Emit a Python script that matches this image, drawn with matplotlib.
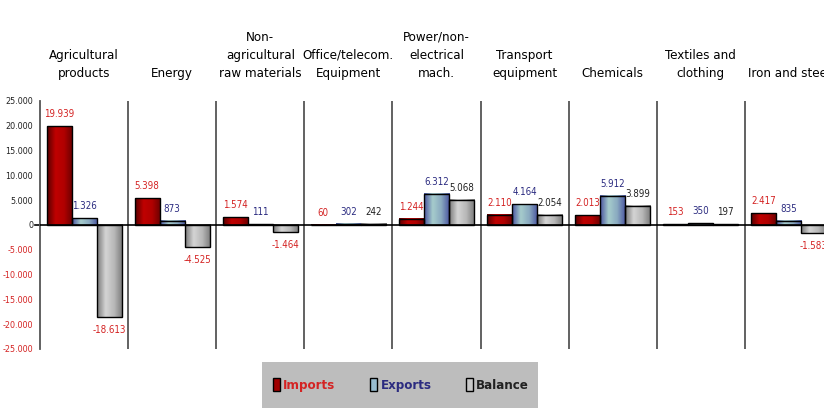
import numpy as np
import matplotlib
matplotlib.use('Agg')
import matplotlib.pyplot as plt
from matplotlib.colors import LinearSegmentedColormap
from matplotlib.patches import Rectangle

categories = ['Agricultural\nproducts', 'Energy', 'Non-\nagricultural\nraw materials',
              'Office/telecom.\nEquipment', 'Power/non-\nelectrical\nmach.',
              'Transport\nequipment', 'Chemicals', 'Textiles and\nclothing', 'Iron and steel']
imports = [19939, 5398, 1574, 60, 1244, 2110, 2013, 153, 2417]
exports = [1326, 873, 111, 302, 6312, 4164, 5912, 350, 835]
balance = [-18613, -4525, -1464, 242, 5068, 2054, 3899, 197, -1583]
yticks = list(range(-25000, 25001, 5000))

RED = '#d42323'
NAVY = '#2b2b80'
DARK = '#222222'
# narrow look of the original: DejaVu Sans condensed
plt.rcParams['font.family'] = 'DejaVu Sans'
plt.rcParams['font.stretch'] = 'condensed'

# left-to-right gradients for the bar fills (dark edge, light middle, dark edge)
grad = {
    'imports': ['#5a0000', '#c00000', '#b00000', '#6a0000'],
    'exports': ['#4a55a0', '#a6cccc', '#8aaac0', '#4a55a0'],
    'balance': ['#7a7a7a', '#d4d4d4', '#b8b8b8', '#7a7a7a'],
}


def fmt(v):
    return f"{v:,}".replace(',', '.')


def gradient_bars(ax, bars, stops):
    cmap = LinearSegmentedColormap.from_list('g', stops)
    row = np.linspace(0, 1, 64).reshape(1, -1)
    for b in bars:
        x0, y0 = b.get_x(), b.get_y()
        w, h = b.get_width(), b.get_height()
        ax.imshow(row, cmap=cmap, extent=[x0, x0 + w, y0, y0 + h],
                  aspect='auto', zorder=2, interpolation='bilinear')


fig = plt.figure(figsize=(8.24, 4.08), dpi=100)
# axes runs past the right edge of the picture, like the reference
ax = fig.add_axes([40 / 824, 59 / 408, 793 / 824, 248 / 408])

n = len(categories)
x = np.arange(n) + 0.5
w = 0.284
series = [('imports', imports, -w), ('exports', exports, 0), ('balance', balance, w)]

for name, vals, off in series:
    bars = ax.bar(x + off, vals, w, facecolor='none', edgecolor='black', lw=1, zorder=3)
    gradient_bars(ax, bars, grad[name])
    for xi, v in zip(x + off, vals):
        if name == 'imports':
            c = RED
        elif name == 'exports':
            c = NAVY
        else:
            c = RED if v < 0 else DARK
        dy = 7 if v >= 0 else -8
        ax.annotate(fmt(v), (xi, v), xytext=(0, dy), textcoords='offset pixels',
                    ha='center', va='bottom' if v >= 0 else 'top',
                    fontsize=7, color=c)

# category separators and zero line
for s in range(1, n):
    ax.axvline(s, color='#555555', lw=1.3, zorder=1)
ax.axhline(0, color='black', lw=1.2, zorder=4)
ax.plot([-0.06, 0], [0, 0], color='black', lw=1.2, clip_on=False)

ax.set_xlim(0, n)
ax.set_ylim(-25000, 25000)
ax.set_xticks([])
ax.set_yticks(yticks)
ax.set_yticklabels([fmt(t) for t in yticks], fontsize=6.5)
for t, lab in zip(yticks, ax.get_yticklabels()):
    lab.set_color(RED if t < 0 else DARK)
ax.tick_params(axis='y', length=0, pad=5)
for side in ['top', 'right', 'bottom']:
    ax.spines[side].set_visible(False)
ax.spines['left'].set_color('#555555')
ax.spines['left'].set_linewidth(1.3)

for xi, cat in zip(x, categories):
    ax.annotate(cat, (xi, 1), xycoords=('data', 'axes fraction'),
                xytext=(0, 21), textcoords='offset pixels', ha='center',
                va='bottom', fontsize=9.5, linespacing=1.5, color='black',
                annotation_clip=False)

# legend box
fig.patches.append(Rectangle((262 / 824, 0), 276 / 824, 46 / 408,
                             transform=fig.transFigure, facecolor='#bdbdbd',
                             edgecolor='none', zorder=0))
handles = [Rectangle((0, 0), 1, 1, facecolor='#a00000', edgecolor='black'),
           Rectangle((0, 0), 1, 1, facecolor='#98bcd0', edgecolor='black'),
           Rectangle((0, 0), 1, 1, facecolor='#c8c8c8', edgecolor='black')]
leg = fig.legend(handles, ['Imports', 'Exports', 'Balance'], loc='center',
                 bbox_to_anchor=(401 / 824, 23 / 408), ncol=3, frameon=False,
                 handlelength=0.55, handleheight=1.15, handletextpad=0.25,
                 columnspacing=2.6,
                 prop={'size': 9.5, 'weight': 'bold', 'stretch': 'condensed'})
for txt, c in zip(leg.get_texts(), [RED, NAVY, DARK]):
    txt.set_color(c)

fig.savefig('out.png', dpi=100)
